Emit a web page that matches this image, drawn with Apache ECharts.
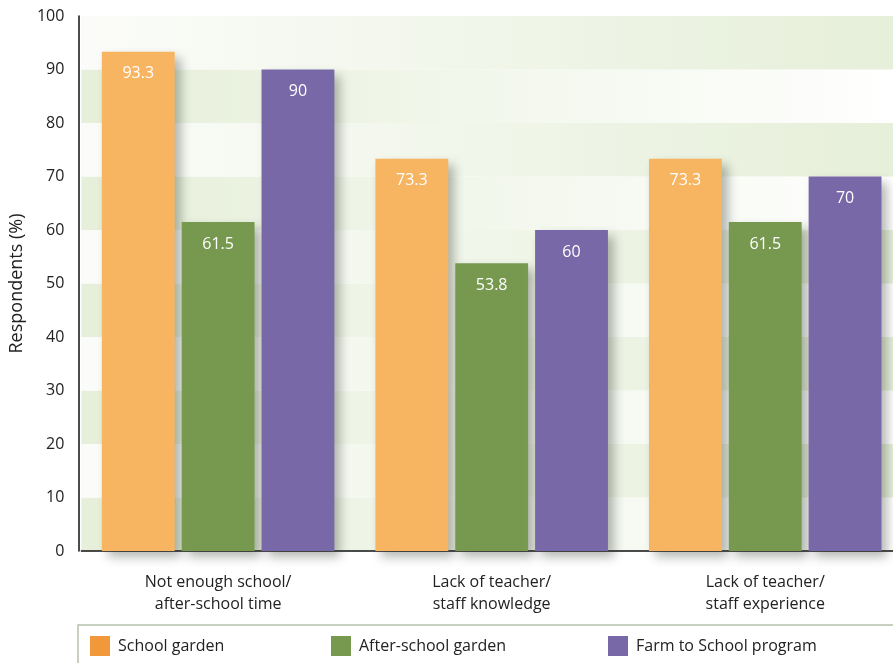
<!DOCTYPE html>
<html>
<head>
<meta charset="utf-8">
<script src="https://cdn.jsdelivr.net/npm/echarts@6/dist/echarts.min.js"></script>
<style>
html,body{margin:0;padding:0;background:#fff;overflow:hidden;width:893px;height:663px;}
#chart{width:902px;height:663px;}
</style>
</head>
<body>
<div id="chart"></div>
<script>
var categories = ['Not enough school/\nafter-school time', 'Lack of teacher/\nstaff knowledge', 'Lack of teacher/\nstaff experience'];
var seriesNames = ['School garden', 'After-school garden', 'Farm to School program'];
var schoolGarden = [93.3, 73.3, 73.3];
var afterSchoolGarden = [61.5, 53.8, 61.5];
var farmToSchool = [90, 60, 70];
var yTicks = [0, 10, 20, 30, 40, 50, 60, 70, 80, 90, 100];

var barColors = ['#f7b562', '#76994f', '#7868a7'];
var legendColors = ['#f0983a', '#76994f', '#7868a7'];
var FONT = 'Open Sans';

var chart = echarts.init(document.getElementById('chart'));

function band(left, right) {
  return {type: 'linear', x: 0, y: 0, x2: 1, y2: 0,
    colorStops: [{offset: 0, color: left}, {offset: 1, color: right}]};
}

var values = [schoolGarden, afterSchoolGarden, farmToSchool];
var series = values.map(function (arr, i) {
  return {
    name: seriesNames[i],
    type: 'bar',
    data: arr,
    barGap: '9.6%',
    barCategoryGap: '15%',
    itemStyle: {
      color: barColors[i],
      shadowColor: 'rgba(40,50,40,0.35)',
      shadowBlur: 10,
      shadowOffsetX: 6,
      shadowOffsetY: 6
    },
    label: {
      show: true,
      position: 'insideTop',
      distance: 14,
      color: '#ffffff',
      fontFamily: FONT,
      fontSize: 16
    }
  };
});

var legendLefts = [90, 331, 608];
var legends = seriesNames.map(function (n, i) {
  return {
    left: legendLefts[i],
    top: 636,
    padding: 0,
    icon: 'rect',
    itemWidth: 20,
    itemHeight: 20,
    selectedMode: false,
    data: [{name: n, itemStyle: {color: legendColors[i]}}],
    textStyle: {fontFamily: FONT, fontSize: 16, color: '#222', padding: [0, 0, 0, 3]}
  };
});

chart.setOption({
  animation: false,
  backgroundColor: '#ffffff',
  grid: {left: 80, top: 16, right: 0, bottom: 112, containLabel: false},
  legend: legends,
  graphic: [{
    type: 'rect',
    shape: {x: 78, y: 625, width: 840, height: 60},
    style: {fill: null, stroke: '#b7c2ad', lineWidth: 1.5},
    silent: true
  }],
  xAxis: {
    type: 'category',
    data: categories,
    axisLine: {show: true, lineStyle: {color: '#111', width: 1.5}},
    axisTick: {show: false},
    axisLabel: {fontFamily: FONT, fontSize: 16, color: '#222', margin: 20, lineHeight: 22}
  },
  yAxis: {
    type: 'value',
    min: 0,
    max: 100,
    interval: 10,
    offset: 3,
    name: 'Respondents (%)',
    nameLocation: 'middle',
    nameGap: 44,
    nameTextStyle: {fontFamily: FONT, fontSize: 18, color: '#222'},
    axisLine: {show: true, lineStyle: {color: '#111', width: 1.5}},
    axisTick: {show: false},
    splitLine: {show: false},
    axisLabel: {fontFamily: FONT, fontSize: 16, color: '#222', margin: 14,
      formatter: function (v) { return yTicks.indexOf(v) >= 0 ? String(v) : ''; }},
    splitArea: {show: true, areaStyle: {color: [
      band('#e6efd9', '#ffffff'),
      band('#fbfcf9', '#e6efd9')
    ]}}
  },
  series: series
});
</script>
</body>
</html>
